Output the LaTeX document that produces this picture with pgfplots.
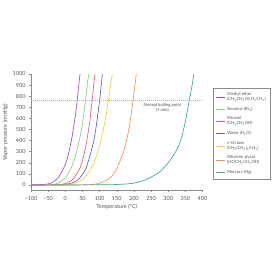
\documentclass[border=0pt]{standalone}
\usepackage{fontspec}
\setmainfont{Lato}
\usepackage{pgfplots}
\pgfplotsset{compat=1.18}
\definecolor{c1}{HTML}{9B4FB5}
\definecolor{c2}{HTML}{8DCB7F}
\definecolor{c3}{HTML}{E45A7C}
\definecolor{c4}{HTML}{5A64B4}
\definecolor{c5}{HTML}{F6CF4A}
\definecolor{c6}{HTML}{F0905A}
\definecolor{c7}{HTML}{3FA88A}
\definecolor{axgray}{HTML}{8C8C8C}
\definecolor{txtgray}{HTML}{555555}
\newcommand{\s}[1]{\textsubscript{#1}}
\begin{document}
\begin{tikzpicture}
\path[use as bounding box, fill=white] (0,0) rectangle (280pt,280pt);
\begin{axis}[
  at={(31pt,89.5pt)}, anchor=south west, scale only axis,
  width=171.5pt, height=116.5pt,
  xmin=-100, xmax=400, ymin=-50, ymax=1000,
  axis lines=left, axis line style={draw=axgray,-},
  xtick={-100,-50,...,400},
  xticklabels={−100,−50,0,50,100,150,200,250,300,350,400},
  ytick={0,100,...,1000},
  tick style={draw=axgray, line width=0.4pt},
  tick align=outside, major tick length=2pt,
  tick label style={font=\fontsize{5.5}{6}\selectfont, text=txtgray},
  /pgf/number format/assume math mode=true,
  /pgf/number format/1000 sep={},
  xlabel={Temperature (°C)}, ylabel={Vapor pressure (mmHg)},
  label style={font=\fontsize{5.5}{6}\selectfont, text=txtgray},
  xlabel style={yshift=3pt}, ylabel style={yshift=-2pt},
  legend style={at={(1.064,0.88)}, anchor=north west, draw=axgray, line width=0.4pt,
    font=\fontsize{4.2}{4.8}\selectfont, text=txtgray,
    cells={anchor=west, align=left}, row sep=1.2pt, inner sep=2pt},
  legend image code/.code={\draw[#1, line width=0.7pt] (0pt,0pt) -- (9pt,0pt);},
  every axis plot/.append style={line width=0.65pt, smooth, tension=0.4},
]
\addplot[c1] coordinates {(-100,0.1) (-80,0.7) (-60,4) (-40,19) (-20,67) (0,185) (10,290) (20,440) (30,640) (34.6,760) (40,921) (43,1000)};
\addlegendentry{Diethyl ether\\(CH\s{3}CH\s{2}OCH\s{2}CH\s{3})}
\addplot[c2] coordinates {(-100,0.05) (-60,0.5) (-40,2.5) (-20,17) (0,65) (10,110) (20,175) (30,265) (40,390) (50,550) (58.8,760) (65,930) (69,1000)};
\addlegendentry{Bromine (Br\s{2})}
\addplot[c3] coordinates {(-100,0.02) (-60,0.1) (-40,0.5) (-20,2.5) (0,12) (20,44) (40,134) (50,220) (60,352) (70,542) (78.3,760) (84,940) (87,1000)};
\addlegendentry{Ethanol\\(CH\s{3}CH\s{2}OH)}
\addplot[c4] coordinates {(-100,0.01) (-40,0.1) (-20,0.8) (0,4.6) (20,17.5) (40,55) (60,149) (80,355) (90,526) (100,760) (105,906) (108,1000)};
\addlegendentry{Water (H\s{2}O)}
\addplot[c5] coordinates {(-60,0.02) (-20,0.7) (0,3) (20,10.5) (40,31) (60,79) (80,175) (100,350) (115,560) (125.6,760) (132,900) (137,1000)};
\addlegendentry{\emph{n}-Octane\\(CH\s{3}(CH\s{2})\s{6}CH\s{3})}
\addplot[c6] coordinates {(-20,0.01) (20,0.06) (50,0.9) (80,5) (100,16) (130,60) (150,145) (170,300) (180,420) (190,590) (197.3,760) (203,900) (207,1000)};
\addlegendentry{Ethylene glycol\\(HOCH\s{2}CH\s{2}OH)}
\addplot[c7] coordinates {(-40,0.0) (50,0.3) (100,1.5) (150,4) (200,16) (237,50) (276,120) (300,200) (320,290) (330,350) (340,440) (350,570) (360,740) (368,870) (375,1000)};
\addlegendentry{Mercury (Hg)}
\draw[axgray!70, line width=0.4pt, dash pattern=on 1pt off 1pt] (axis cs:-100,760) -- (axis cs:400,760);
\node[font=\fontsize{4.2}{4.8}\selectfont, text=txtgray, align=center] at (axis cs:283,695) {Normal boiling point\\(1 atm)};
\end{axis}
\end{tikzpicture}
\end{document}
